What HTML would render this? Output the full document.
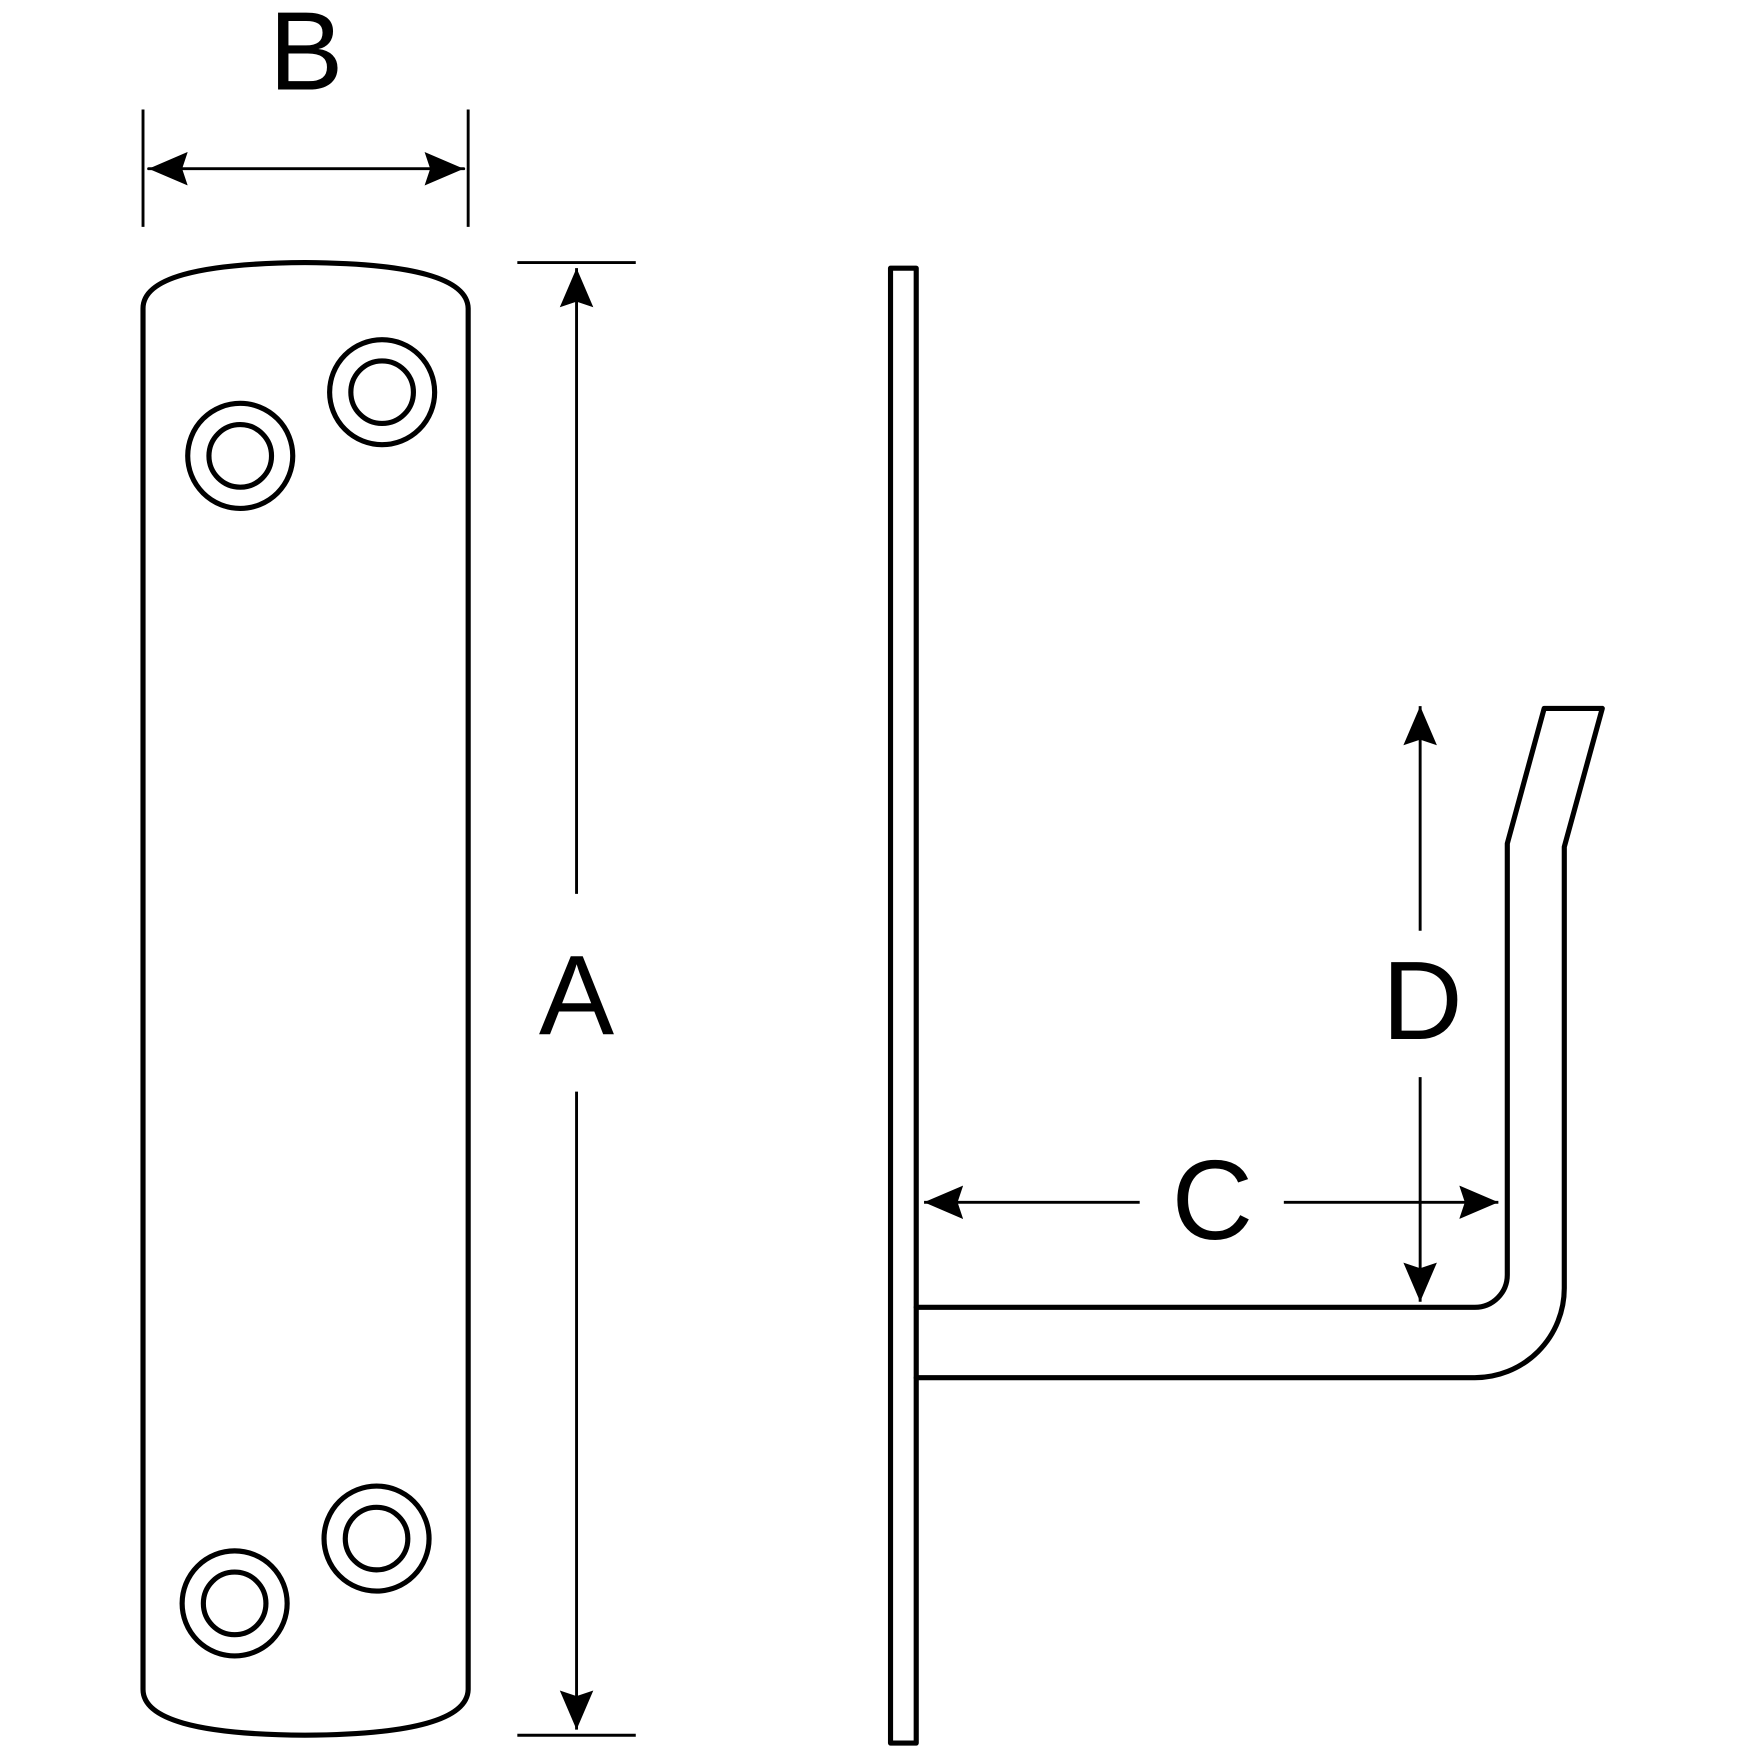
<!DOCTYPE html>
<html><head><meta charset="utf-8"><style>
html,body{margin:0;padding:0;background:#fff;}
svg{display:block;}
text{font-family:"Liberation Sans",sans-serif;fill:#000;}
</style></head><body>
<svg width="1752" height="1752" viewBox="0 0 1568 1568" xmlns="http://www.w3.org/2000/svg">
<defs>
<marker id="ah" viewBox="0 0 36 32" refX="35" refY="16" markerWidth="36" markerHeight="32" markerUnits="userSpaceOnUse" orient="auto-start-reverse">
<path d="M35,16 L0,1 L5,16 L0,31 Z" fill="#000"/>
</marker>
</defs>
<g fill="none" stroke="#000" stroke-linejoin="round" stroke-linecap="round">
<line x1="128" y1="98" x2="128" y2="203" stroke-width="2.6" stroke-linecap="butt"/>
<line x1="419" y1="98" x2="419" y2="203" stroke-width="2.6" stroke-linecap="butt"/>
<line x1="133" y1="151" x2="415" y2="151" stroke-width="2.6" marker-start="url(#ah)" marker-end="url(#ah)"/>
<path d="M128,1512 L128,276 Q128,236 273,235 Q418,236 419,276 L419,1512 Q418,1552 273,1553 Q128,1552 128,1512 Z" stroke-width="4.6"/>
<circle cx="215" cy="408" r="47" stroke-width="4.6"/><circle cx="215" cy="408" r="28" stroke-width="4.6"/>
<circle cx="342" cy="351" r="47" stroke-width="4.6"/><circle cx="342" cy="351" r="28" stroke-width="4.6"/>
<circle cx="337" cy="1377" r="47" stroke-width="4.6"/><circle cx="337" cy="1377" r="28" stroke-width="4.6"/>
<circle cx="210" cy="1435" r="47" stroke-width="4.6"/><circle cx="210" cy="1435" r="28" stroke-width="4.6"/>
<line x1="463" y1="235" x2="569" y2="235" stroke-width="2.6" stroke-linecap="butt"/>
<line x1="463" y1="1553" x2="569" y2="1553" stroke-width="2.6" stroke-linecap="butt"/>
<line x1="516" y1="240" x2="516" y2="800" stroke-width="2.6" stroke-linecap="butt" marker-start="url(#ah)"/>
<line x1="516" y1="977" x2="516" y2="1548" stroke-width="2.6" stroke-linecap="butt" marker-end="url(#ah)"/>
<rect x="797" y="240" width="23" height="1320" stroke-width="4.6"/>
<path d="M820,1233 L1320,1233 A80,80 0 0 0 1400,1153 L1400,758 L1434,634 L1382,634 L1349,755 L1349,1141 A29,29 0 0 1 1320,1170 L820,1170" stroke-width="4.6"/>
<line x1="827" y1="1076" x2="1020" y2="1076" stroke-width="2.6" stroke-linecap="butt" marker-start="url(#ah)"/>
<line x1="1149" y1="1076" x2="1341" y2="1076" stroke-width="2.6" stroke-linecap="butt" marker-end="url(#ah)"/>
<line x1="1271" y1="632" x2="1271" y2="833" stroke-width="2.6" stroke-linecap="butt" marker-start="url(#ah)"/>
<line x1="1271" y1="964" x2="1271" y2="1165" stroke-width="2.6" stroke-linecap="butt" marker-end="url(#ah)"/>
</g>
<text x="274" y="80" font-size="100" text-anchor="middle">B</text>
<text x="516" y="926" font-size="101" text-anchor="middle">A</text>
<text x="1085" y="1109" font-size="101" text-anchor="middle">C</text>
<text x="1273" y="930" font-size="100" text-anchor="middle">D</text>
</svg>
</body></html>
